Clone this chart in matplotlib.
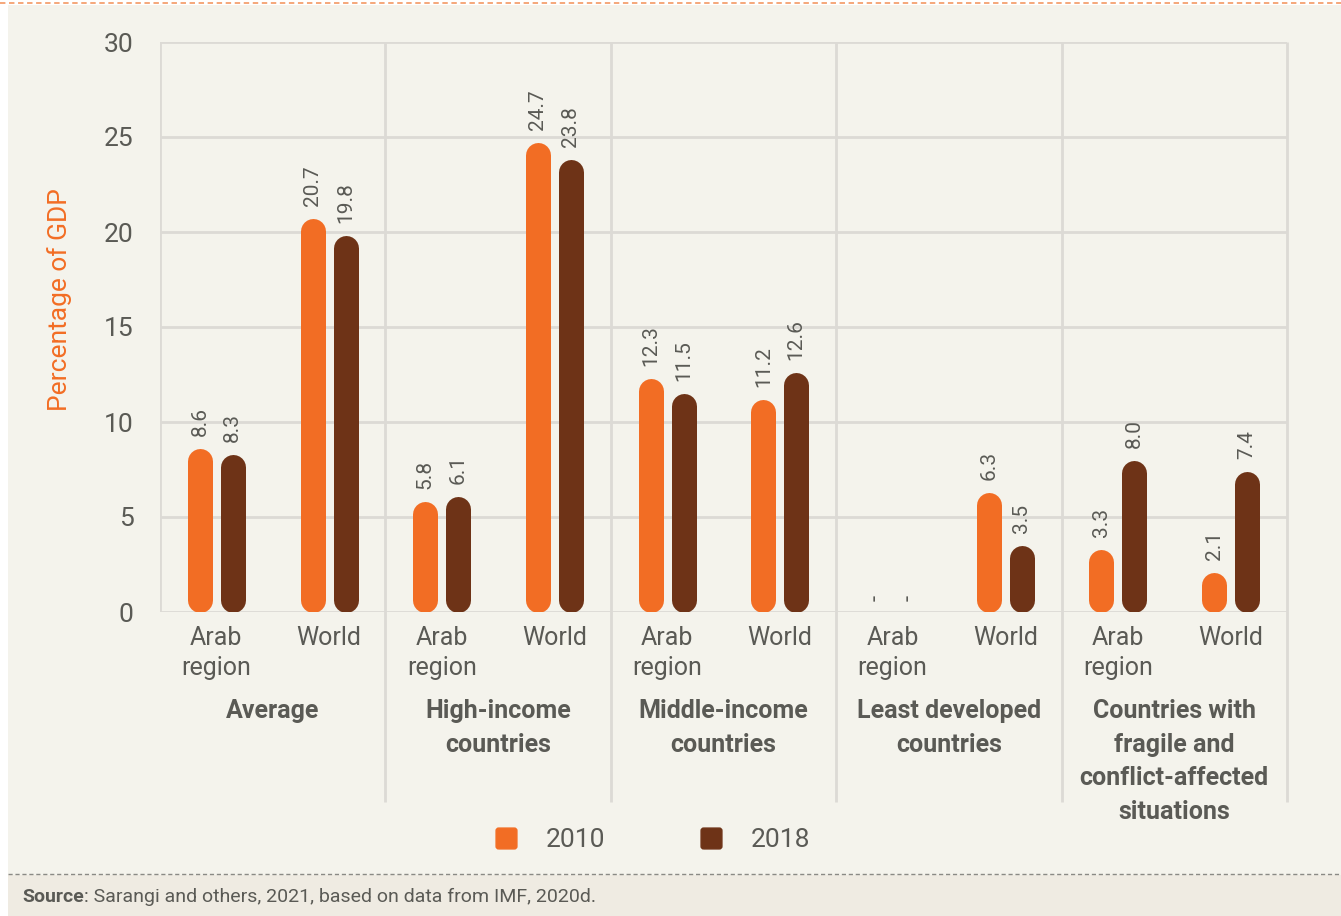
import numpy as np
import matplotlib.pyplot as plt
from matplotlib.patches import Rectangle
from matplotlib.lines import Line2D
from matplotlib.path import Path

plt.rcParams['font.family'] = ['Roboto', 'DejaVu Sans']

# data
groups = ['Average', 'High-income\ncountries', 'Middle-income\ncountries',
          'Least developed\ncountries', 'Countries with\nfragile and\nconflict-affected\nsituations']
subcats = ['Arab\nregion', 'World']
years = ['2010', '2018']
# [group][subcat] ; None = no data
v2010 = [[8.6, 20.7], [5.8, 24.7], [12.3, 11.2], [None, 6.3], [3.3, 2.1]]
v2018 = [[8.3, 19.8], [6.1, 23.8], [11.5, 12.6], [None, 3.5], [8.0, 7.4]]

c2010 = '#F26D24'
c2018 = '#6E3317'
txt = '#5A5A55'
grid_c = '#DCDAD5'
bg = '#F4F3EC'

W, H = 1341, 916
fig = plt.figure(figsize=(W / 100, H / 100), dpi=100)
fig.patch.set_facecolor('white')

# backgrounds and dashed separators
fig.add_artist(Rectangle((8 / W, 0), 1, 1 - 5 / H, transform=fig.transFigure,
                         facecolor=bg, edgecolor='none', zorder=-10))
fig.add_artist(Rectangle((8 / W, 0), 1, (916 - 875) / H, transform=fig.transFigure,
                         facecolor='#EFEBE2', edgecolor='none', zorder=-9))
fig.add_artist(Line2D([0, 1], [1 - 3 / H, 1 - 3 / H], transform=fig.transFigure,
                      color='#F4A070', lw=1.3, ls=(0, (3, 2))))
fig.add_artist(Line2D([8 / W, 1], [1 - 874 / H, 1 - 874 / H], transform=fig.transFigure,
                      color='#8A8A85', lw=1.0, ls=(0, (3, 2))))

ax_l, ax_r, ax_t, ax_b = 160, 1287, 42, 612
ax = fig.add_axes([ax_l / W, 1 - ax_b / H, (ax_r - ax_l) / W, (ax_b - ax_t) / H])
ax.set_facecolor('none')
ng = len(groups)
ax.set_xlim(0, ng)
ax.set_ylim(0, 30)
for s in ax.spines.values():
    s.set_visible(False)

# gridlines
for y in range(0, 31, 5):
    ax.axhline(y, color=grid_c, lw=2, zorder=0)
ax.vlines([0], 0, 30, color=grid_c, lw=2, zorder=0)
ax.vlines(np.arange(1, ng + 1), -10, 30, color=grid_c, lw=2, zorder=0, clip_on=False)

ax.set_yticks(range(0, 31, 5))
ax.set_xticks([])
ax.tick_params(axis='y', length=0, pad=19, labelsize=19, labelcolor=txt)

# rounded bars: thick lines with round caps, inset by the cap radius
bar_px = 25
off = 0.073
r_data = (bar_px / 2) * 30 / (ax_b - ax_t)

def rbar(x, v, color):
    ax.plot([x, x], [r_data, v - r_data], color=color, lw=bar_px * 0.72,
            solid_capstyle='round', zorder=3)

for g in range(ng):
    for s, pos in enumerate([0.25, 0.75]):
        xc = g + pos
        for vals, col, dx in [(v2010, c2010, -off), (v2018, c2018, off)]:
            v = vals[g][s]
            if v is None:
                ax.text(xc + dx, 0.6, '-', rotation=90, ha='center', va='bottom',
                        fontsize=16, color=txt)
                continue
            rbar(xc + dx, v, col)
            ax.annotate(f'{v:.1f}', (xc + dx, v), xytext=(0, 9), textcoords='offset points',
                        rotation=90, ha='center', va='bottom', fontsize=15, color=txt)
        ax.text(xc, -0.75, subcats[s], ha='center', va='top', fontsize=18,
                color=txt, linespacing=1.3)
    ax.text(g + 0.5, -4.6, groups[g], ha='center', va='top', fontsize=18,
            fontweight='bold', color=txt, linespacing=1.5)

fig.text(60 / W, 1 - 300 / H, 'Percentage of GDP', rotation=90, ha='center',
         va='center', fontsize=19, color=c2010)

# rounded square marker for the legend
k = 0.25
rsq = Path([(-1 + k, -1), (1 - k, -1), (1, -1), (1, -1 + k), (1, 1 - k), (1, 1), (1 - k, 1),
            (-1 + k, 1), (-1, 1), (-1, 1 - k), (-1, -1 + k), (-1, -1), (-1 + k, -1)],
           [Path.MOVETO, Path.LINETO, Path.CURVE3, Path.CURVE3, Path.LINETO, Path.CURVE3,
            Path.CURVE3, Path.LINETO, Path.CURVE3, Path.CURVE3, Path.LINETO, Path.CURVE3,
            Path.CURVE3])
handles = [Line2D([], [], marker=rsq, ls='none', markersize=15, color=c)
           for c in [c2010, c2018]]
fig.legend(handles, years, loc='center', bbox_to_anchor=(645 / W, 1 - 840 / H),
           ncol=2, frameon=False, fontsize=19, labelcolor=txt, columnspacing=3.0,
           handletextpad=0.5)

t1 = fig.text(22 / W, 1 - 897 / H, 'Source', fontsize=14, color=txt, va='center',
              fontweight='bold')
fig.canvas.draw()
bb = t1.get_window_extent()
fig.text(bb.x1 / W, 1 - 897 / H, ': Sarangi and others, 2021, based on data from IMF, 2020d.',
         fontsize=14, color=txt, va='center')

fig.savefig('out.png', dpi=100, facecolor=fig.get_facecolor())
